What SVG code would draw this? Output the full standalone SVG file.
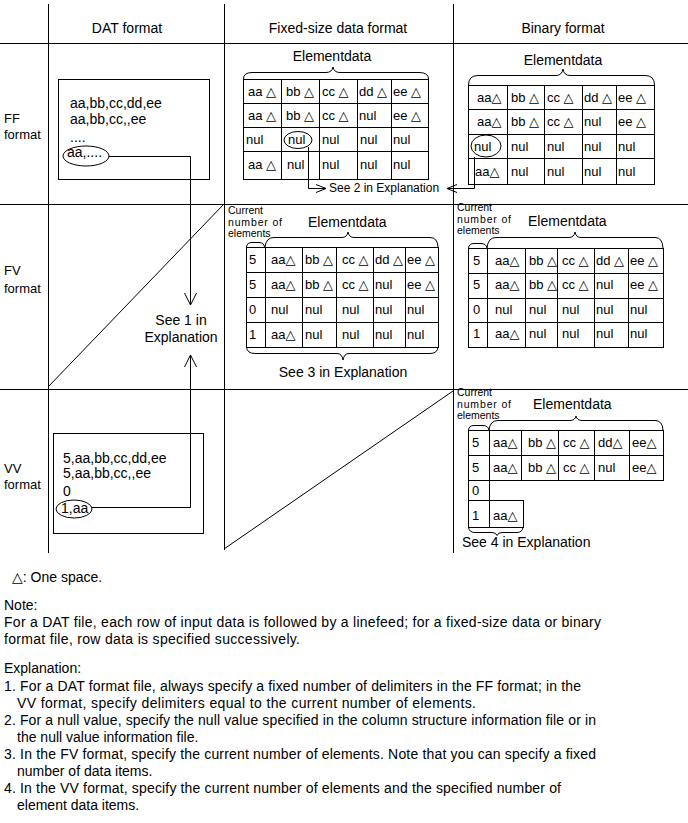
<svg xmlns="http://www.w3.org/2000/svg" width="688" height="823" viewBox="0 0 688 823">
<style>
text{font-family:"Liberation Sans","DejaVu Sans",sans-serif;fill:#000;}
.h{font-size:14px;}
.r{font-size:13px;}
.c{font-size:13px;}
.s{font-size:12px;}
.k{font-size:10.5px;}
.b{font-size:14px;}
.ln{stroke:#000;stroke-width:1;fill:none;}
.mid{text-anchor:middle;}
</style>
<defs>
<marker id="arr" markerUnits="userSpaceOnUse" markerWidth="14" markerHeight="14" viewBox="0 0 14 14" refX="13" refY="7" orient="auto"><path d="M1,1 L13,7 L1,13" fill="none" stroke="#000"/></marker>
<marker id="arrs" markerUnits="userSpaceOnUse" markerWidth="12" markerHeight="10" viewBox="0 0 12 10" refX="11" refY="5" orient="auto"><path d="M1,1 L11,5 L1,9" fill="none" stroke="#000"/></marker>
</defs>
<rect x="0" y="0" width="688" height="823" fill="#fff"/>

<g id="grid" class="ln">
<line x1="0" y1="43.5" x2="688" y2="43.5"/>
<line x1="0" y1="204.5" x2="688" y2="204.5"/>
<line x1="0" y1="389.5" x2="688" y2="389.5"/>
<line x1="48.5" y1="4" x2="48.5" y2="553"/>
<line x1="224.5" y1="4" x2="224.5" y2="550"/>
<line x1="453.5" y1="4" x2="453.5" y2="553"/>
</g>

<g id="headers">
<text class="h mid" x="127" y="33">DAT format</text>
<text class="h mid" x="338" y="33">Fixed-size data format</text>
<text class="h mid" x="563" y="33">Binary format</text>
</g>

<g id="row-labels">
<text class="r" x="4" y="123">FF</text>
<text class="r" x="4" y="139">format</text>
<text class="r" x="4" y="275">FV</text>
<text class="r" x="4" y="293">format</text>
<text class="r" x="4" y="473">VV</text>
<text class="r" x="4" y="489">format</text>
</g>

<g id="connectors" class="ln">
<line x1="48" y1="387" x2="224" y2="204"/>
<line x1="224" y1="549" x2="453" y2="391"/>
<path d="M109,156.5 H190.5 V305" marker-end="url(#arr)"/>
<path d="M92,507.5 H190.5 V355" marker-end="url(#arr)"/>
<path d="M308.5,147 V188.5 H326" marker-end="url(#arrs)"/>
<path d="M474.5,157 V188.5 H447" marker-end="url(#arrs)"/>
</g>

<g id="see1">
<text class="b mid" x="181" y="325">See 1 in</text>
<text class="b mid" x="181" y="342">Explanation</text>
</g>

<g id="dat-ff">
<rect class="ln" x="58.5" y="79.5" width="151" height="100"/>
<text class="b" x="70" y="108">aa,bb,cc,dd,ee</text>
<text class="b" x="70" y="124">aa,bb,cc,,ee</text>
<text class="b" x="70" y="142">....</text>
<text class="b" x="67" y="157">aa,....</text>
<ellipse class="ln" cx="86" cy="156" rx="23" ry="10"/>
</g>

<g id="dat-vv">
<rect class="ln" x="53.5" y="433.5" width="150" height="100"/>
<text class="b" x="63" y="463">5,aa,bb,cc,dd,ee</text>
<text class="b" x="63" y="478">5,aa,bb,cc,,ee</text>
<text class="b" x="63" y="496">0</text>
<text class="b" x="61" y="513">1,aa</text>
<ellipse class="ln" cx="74" cy="509" rx="18" ry="9"/>
</g>

<g id="ff-fixed">
<text class="b mid" x="332" y="61">Elementdata</text>
<path class="ln" d="M243.5,79 Q243.5,72.5 252,72.5 L326,72.5 Q332,72.5 333,67 Q334,72.5 340,72.5 L419,72.5 Q428.5,72.5 428.5,79"/>
<rect class="ln" x="243.5" y="79.5" width="185" height="100"/>
<path class="ln" d="M281.5,79.5 V179.5 M319.5,79.5 V179.5 M357.5,79.5 V179.5 M391.5,79.5 V179.5 M243.5,103.5 H428.5 M243.5,127.5 H428.5 M243.5,151.5 H428.5"/>
<text class="c" x="248" y="96">aa △</text><text class="c" x="286" y="96">bb △</text><text class="c" x="322" y="96">cc △</text><text class="c" x="359" y="96">dd △</text><text class="c" x="393" y="96">ee △</text>
<text class="c" x="248" y="120">aa △</text><text class="c" x="286" y="120">bb △</text><text class="c" x="322" y="120">cc △</text><text class="c" x="359" y="120">nul</text><text class="c" x="393" y="120">ee △</text>
<text class="c" x="246" y="144">nul</text><text class="c" x="288" y="144">nul</text><text class="c" x="322" y="144">nul</text><text class="c" x="360" y="144">nul</text><text class="c" x="393" y="144">nul</text>
<text class="c" x="248" y="169">aa △</text><text class="c" x="287" y="169">nul</text><text class="c" x="322" y="169">nul</text><text class="c" x="360" y="169">nul</text><text class="c" x="393" y="169">nul</text>
<ellipse class="ln" cx="298" cy="140" rx="14" ry="8.5"/>
</g>

<g id="see2">
<text class="s" x="329" y="192">See 2 in Explanation</text>
</g>

<g id="ff-binary">
<text class="b mid" x="563" y="65">Elementdata</text>
<path class="ln" d="M468.5,85 Q468.5,75.5 478,75.5 L556,75.5 Q562,75.5 563,69 Q564,75.5 570,75.5 L645,75.5 Q654.5,75.5 654.5,85"/>
<rect class="ln" x="468.5" y="85.5" width="186" height="99"/>
<path class="ln" d="M507.5,85.5 V184.5 M544.5,85.5 V184.5 M582.5,85.5 V184.5 M616.5,85.5 V184.5 M468.5,109.5 H654.5 M468.5,134.5 H654.5 M468.5,158.5 H654.5"/>
<text class="c" x="477" y="102">aa△</text><text class="c" x="511" y="102">bb △</text><text class="c" x="547" y="102">cc △</text><text class="c" x="584" y="102">dd △</text><text class="c" x="618" y="102">ee △</text>
<text class="c" x="477" y="126">aa△</text><text class="c" x="511" y="126">bb △</text><text class="c" x="547" y="126">cc △</text><text class="c" x="584" y="126">nul</text><text class="c" x="618" y="126">ee △</text>
<text class="c" x="474" y="151">nul</text><text class="c" x="511" y="151">nul</text><text class="c" x="547" y="151">nul</text><text class="c" x="584" y="151">nul</text><text class="c" x="618" y="151">nul</text>
<text class="c" x="475" y="176">aa△</text><text class="c" x="511" y="176">nul</text><text class="c" x="547" y="176">nul</text><text class="c" x="584" y="176">nul</text><text class="c" x="618" y="176">nul</text>
<ellipse class="ln" cx="486" cy="146" rx="15" ry="11"/>
</g>

<g id="fv-fixed">
<text class="k" x="228" y="214">Current</text>
<text class="k" x="228" y="225.5" textLength="54" lengthAdjust="spacing">number of</text>
<text class="k" x="228" y="237">elements</text>
<text class="b" x="308" y="227">Elementdata</text>
<path class="ln" d="M246.5,247 Q247,242.5 252,242.5 L259,242.5 Q264,242.5 264.5,247"/>
<path class="ln" d="M265,247 Q266,237.5 274,237.5 L342,237.5 Q347,237.5 348,232 Q349,237.5 354,237.5 L430,237.5 Q437.5,237.5 438,247"/>
<rect class="ln" x="246.5" y="247.5" width="192" height="100"/>
<path class="ln" d="M265.5,247.5 V347.5 M302.5,247.5 V347.5 M336.5,247.5 V347.5 M373.5,247.5 V347.5 M405.5,247.5 V347.5 M246.5,272.5 H438.5 M246.5,297.5 H438.5 M246.5,322.5 H438.5"/>
<text class="c" x="249" y="264">5</text><text class="c" x="271" y="264">aa△</text><text class="c" x="305" y="264">bb △</text><text class="c" x="342" y="264">cc △</text><text class="c" x="375" y="264">dd △</text><text class="c" x="407" y="264">ee △</text>
<text class="c" x="249" y="289">5</text><text class="c" x="271" y="289">aa△</text><text class="c" x="305" y="289">bb △</text><text class="c" x="342" y="289">cc △</text><text class="c" x="375" y="289">nul</text><text class="c" x="407" y="289">ee △</text>
<text class="c" x="249" y="314">0</text><text class="c" x="271" y="314">nul</text><text class="c" x="305" y="314">nul</text><text class="c" x="342" y="314">nul</text><text class="c" x="375" y="314">nul</text><text class="c" x="407" y="314">nul</text>
<text class="c" x="249" y="339">1</text><text class="c" x="271" y="339">aa△</text><text class="c" x="305" y="339">nul</text><text class="c" x="342" y="339">nul</text><text class="c" x="375" y="339">nul</text><text class="c" x="407" y="339">nul</text>
<path class="ln" d="M246.5,347 Q247,353.5 255,353.5 L337,353.5 Q342,353.5 343,360 Q344,353.5 349,353.5 L430,353.5 Q437.5,353.5 438,347"/>
<text class="b mid" x="343" y="377">See 3 in Explanation</text>
</g>

<g id="fv-binary">
<text class="k" x="457" y="211">Current</text>
<text class="k" x="457" y="222.5" textLength="54" lengthAdjust="spacing">number of</text>
<text class="k" x="457" y="234">elements</text>
<text class="b" x="528" y="226">Elementdata</text>
<path class="ln" d="M468.5,248 Q469,243.5 474,243.5 L481,243.5 Q486,243.5 487,248"/>
<path class="ln" d="M487,248 Q488,237.5 496,237.5 L569,237.5 Q574,237.5 575,232 Q576,237.5 581,237.5 L655,237.5 Q662.5,237.5 663,248"/>
<rect class="ln" x="468.5" y="248.5" width="195" height="99"/>
<path class="ln" d="M487.5,248.5 V347.5 M525.5,248.5 V347.5 M557.5,248.5 V347.5 M594.5,248.5 V347.5 M628.5,248.5 V347.5 M468.5,273.5 H663.5 M468.5,298.5 H663.5 M468.5,322.5 H663.5"/>
<text class="c" x="473" y="265">5</text><text class="c" x="495" y="265">aa△</text><text class="c" x="529" y="265">bb △</text><text class="c" x="562" y="265">cc △</text><text class="c" x="596" y="265">dd △</text><text class="c" x="630" y="265">ee △</text>
<text class="c" x="473" y="289">5</text><text class="c" x="495" y="289">aa△</text><text class="c" x="529" y="289">bb △</text><text class="c" x="562" y="289">cc △</text><text class="c" x="596" y="289">nul</text><text class="c" x="630" y="289">ee △</text>
<text class="c" x="473" y="314">0</text><text class="c" x="495" y="314">nul</text><text class="c" x="529" y="314">nul</text><text class="c" x="562" y="314">nul</text><text class="c" x="596" y="314">nul</text><text class="c" x="630" y="314">nul</text>
<text class="c" x="473" y="338">1</text><text class="c" x="495" y="338">aa△</text><text class="c" x="529" y="338">nul</text><text class="c" x="562" y="338">nul</text><text class="c" x="596" y="338">nul</text><text class="c" x="630" y="338">nul</text>
</g>

<g id="vv-binary">
<text class="k" x="457" y="396">Current</text>
<text class="k" x="457" y="407.5" textLength="54" lengthAdjust="spacing">number of</text>
<text class="k" x="457" y="419">elements</text>
<text class="b" x="533" y="409">Elementdata</text>
<path class="ln" d="M468.5,430 Q469,425.5 474,425.5 L483,425.5 Q488,425.5 489,430"/>
<path class="ln" d="M489,430 Q490,420.5 498,420.5 L570,420.5 Q575,420.5 576,416 Q577,420.5 582,420.5 L655,420.5 Q662.5,420.5 663,430"/>
<rect class="ln" x="468.5" y="430.5" width="195" height="50"/>
<path class="ln" d="M489.5,430.5 V480.5 M521.5,430.5 V480.5 M558.5,430.5 V480.5 M594.5,430.5 V480.5 M629.5,430.5 V480.5 M468.5,455.5 H663.5"/>
<rect class="ln" x="468.5" y="480.5" width="21" height="20"/>
<rect class="ln" x="468.5" y="500.5" width="21" height="27"/>
<rect class="ln" x="489.5" y="500.5" width="34" height="27"/>
<text class="c" x="472" y="447">5</text><text class="c" x="493" y="447">aa△</text><text class="c" x="528" y="447">bb △</text><text class="c" x="563" y="447">cc △</text><text class="c" x="598" y="447">dd△</text><text class="c" x="632" y="447">ee△</text>
<text class="c" x="472" y="472">5</text><text class="c" x="493" y="472">aa△</text><text class="c" x="528" y="472">bb △</text><text class="c" x="563" y="472">cc △</text><text class="c" x="598" y="472">nul</text><text class="c" x="632" y="472">ee△</text>
<text class="c" x="472" y="495">0</text>
<text class="c" x="472" y="520">1</text><text class="c" x="493" y="520">aa△</text>
<path class="ln" d="M468.5,527 Q469,532.5 475,532.5 L492,532.5 Q496,532.5 497,535.5 Q498,532.5 502,532.5 L517,532.5 Q522.5,532.5 523,527"/>
<text class="b" x="462" y="547">See 4 in Explanation</text>
</g>

<g id="notes">
<text class="b" x="12" y="582">△: One space.</text>
<text class="b" x="4" y="610">Note:</text>
<text class="b" x="4" y="627" textLength="597" lengthAdjust="spacing">For a DAT file, each row of input data is followed by a linefeed; for a fixed-size data or binary</text>
<text class="b" x="4" y="644" textLength="296" lengthAdjust="spacing">format file, row data is specified successively.</text>
<text class="b" x="4" y="673">Explanation:</text>
<text class="b" x="4" y="691" textLength="577" lengthAdjust="spacing">1. For a DAT format file, always specify a fixed number of delimiters in the FF format; in the</text>
<text class="b" x="17" y="708" textLength="459" lengthAdjust="spacing">VV format, specify delimiters equal to the current number of elements.</text>
<text class="b" x="4" y="725" textLength="592" lengthAdjust="spacing">2. For a null value, specify the null value specified in the column structure information file or in</text>
<text class="b" x="17" y="742">the null value information file.</text>
<text class="b" x="4" y="759" textLength="592" lengthAdjust="spacing">3. In the FV format, specify the current number of elements. Note that you can specify a fixed</text>
<text class="b" x="17" y="776">number of data items.</text>
<text class="b" x="4" y="793" textLength="557" lengthAdjust="spacing">4. In the VV format, specify the current number of elements and the specified number of</text>
<text class="b" x="17" y="810">element data items.</text>
</g>
</svg>
